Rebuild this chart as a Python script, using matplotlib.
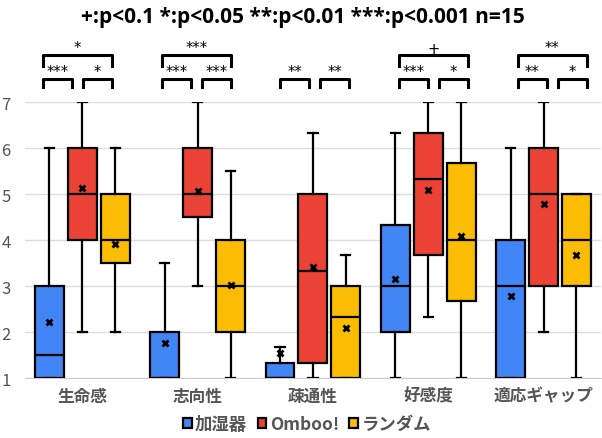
import numpy as np
import matplotlib.pyplot as plt
from matplotlib.patches import Patch

plt.rcParams['font.family'] = ['Noto Sans CJK JP', 'DejaVu Sans']

categories = ["生命感", "志向性", "疎通性", "好感度", "適応ギャップ"]
series = ["加湿器", "Omboo!", "ランダム"]
colors = ["#4285F4", "#EA4335", "#FBBC04"]

# [series][category]
whislo = [[1, 1, 1, 1, 1],
          [2, 3, 1, 2.33, 2],
          [2, 1, 1, 1, 1]]
q1 = [[1, 1, 1, 2, 1],
      [4, 4.5, 1.33, 3.67, 3],
      [3.5, 2, 1, 2.67, 3]]
med = [[1.5, 1, 1, 3, 3],
       [5, 5, 3.33, 5.33, 5],
       [4, 3, 2.33, 4, 4]]
q3 = [[3, 2, 1.33, 4.33, 4],
      [6, 6, 5, 6.33, 6],
      [5, 4, 3, 5.67, 5]]
whishi = [[6, 3.5, 1.67, 6.33, 6],
          [7, 7, 6.33, 7, 7],
          [6, 5.5, 3.67, 7, 5]]
means = [[2.22, 1.77, 1.55, 3.15, 2.8],
         [5.13, 5.07, 3.43, 5.09, 4.8],
         [3.93, 3.03, 2.09, 4.09, 3.67]]

# significance: (small left, small right, big)
sig_small1 = ["***", "***", "**", "***", "**"]
sig_small2 = ["*", "***", "**", "*", "*"]
sig_big = ["*", "***", "", "+", "**"]

title = "+:p<0.1 *:p<0.05 **:p<0.01 ***:p<0.001 n=15"

W, H = 602, 439
fig = plt.figure(figsize=(W / 100, H / 100), dpi=100)
ax = fig.add_axes([24.65 / W, 59.7 / H, 576.5 / W, 276 / H])

gray = "#555555"
offs = [-0.286, 0, 0.286]
x = np.arange(len(categories))
for s in range(3):
    stats = []
    for c in range(len(categories)):
        stats.append(dict(whislo=whislo[s][c], q1=q1[s][c], med=med[s][c],
                          q3=q3[s][c], whishi=whishi[s][c], mean=means[s][c],
                          fliers=[]))
    ax.bxp(stats, positions=x + offs[s], widths=0.25, patch_artist=True,
           showmeans=True, showfliers=False,
           boxprops=dict(facecolor=colors[s], edgecolor="black", linewidth=1.6),
           medianprops=dict(color="black", linewidth=1.6),
           whiskerprops=dict(color="black", linewidth=1.6),
           capprops=dict(color="black", linewidth=1.6),
           meanprops=dict(marker="x", markeredgecolor="black", markersize=5,
                          markeredgewidth=2),
           capwidths=0.08, zorder=3)

ax.set_xlim(-0.5, 4.5)
ax.set_ylim(1, 7)
ax.set_yticks(range(1, 8))
ax.set_xticks(x)
ax.set_xticklabels(categories, fontsize=12, fontweight="bold", color=gray)
ax.tick_params(axis="y", labelsize=12, colors=gray, length=0, pad=10)
ax.tick_params(axis="x", length=0, pad=6)
ax.grid(axis="y", color="#dddddd", linewidth=1, zorder=0)
for sp in ["top", "right", "left"]:
    ax.spines[sp].set_visible(False)
ax.spines["bottom"].set_color("#cccccc")

fig.text(0.503, 1 - 18 / H, title, ha="center", va="center", fontsize=15,
         fontweight="bold", family=["Open Sans", "DejaVu Sans"])


def bracket(x0, x1, ytop, ybot, label):
    fx = [x0 / W, x0 / W, x1 / W, x1 / W]
    fy = [1 - ybot / H, 1 - ytop / H, 1 - ytop / H, 1 - ybot / H]
    fig.add_artist(plt.Line2D(fx, fy, color="black", linewidth=2.2,
                              transform=fig.transFigure))
    fig.text((x0 + x1) / 2 / W, 1 - (ytop - 7) / H, label, ha="center",
             va="center", fontsize=10.5, family="DejaVu Sans")


for i in range(len(categories)):
    L = 43 + 118.7 * i
    bracket(L, L + 29, 80, 88, sig_small1[i])
    bracket(L + 40, L + 69, 80, 88, sig_small2[i])
    if sig_big[i]:
        bracket(L, L + 69, 56, 67, sig_big[i])

handles = [Patch(facecolor=colors[s], edgecolor="black", linewidth=1.6)
           for s in range(3)]
leg = fig.legend(handles, series, loc="center", bbox_to_anchor=(0.51, 14 / H),
                 ncol=3, frameon=False, handlelength=0.5, handleheight=0.5,
                 handletextpad=0.2, columnspacing=0.6,
                 prop=dict(size=12.5, weight="bold"))
for t in leg.get_texts():
    t.set_color(gray)

fig.savefig("out.png", dpi=100)
